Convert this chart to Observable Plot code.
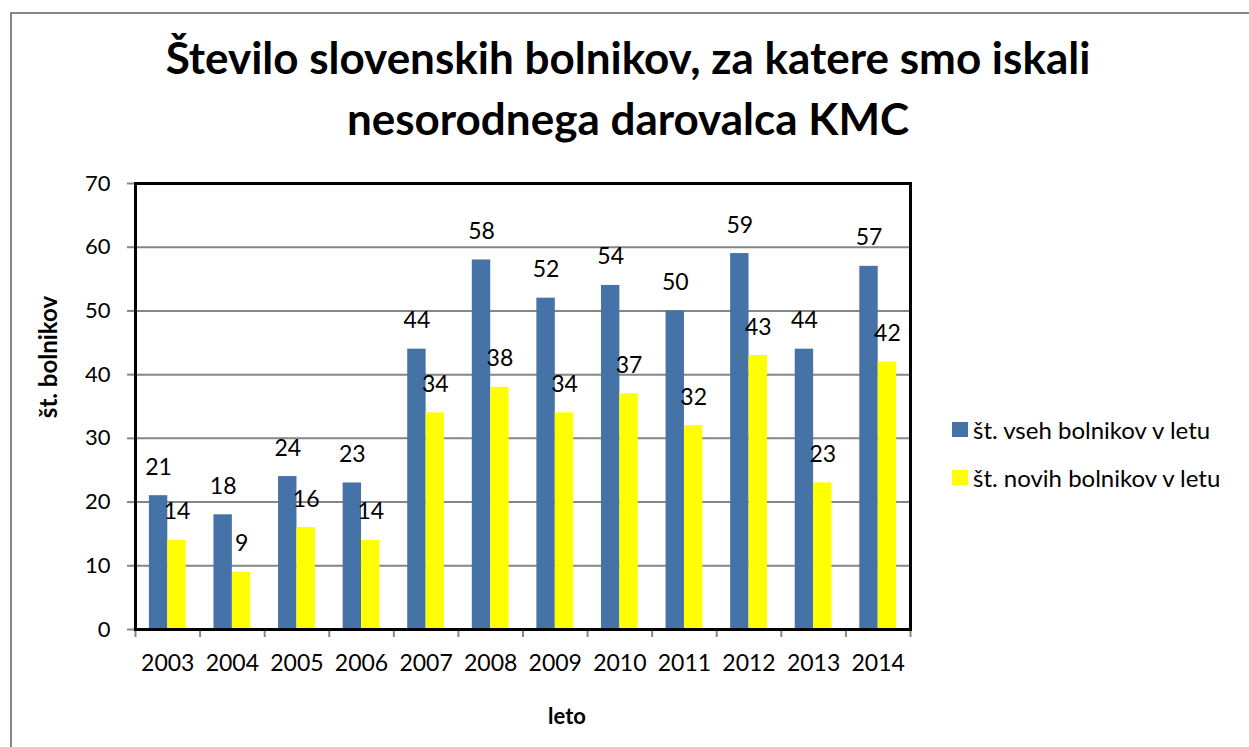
<!DOCTYPE html>
<html>
<head>
<meta charset="utf-8">
<script src="https://cdn.jsdelivr.net/npm/d3@7"></script>
<script src="https://cdn.jsdelivr.net/npm/@observablehq/plot@0.6"></script>
<style>
  html, body { margin: 0; padding: 0; background: #fff; overflow: hidden; }
  body { width: 1249px; height: 747px; position: relative; font-family: Lato, "Open Sans", sans-serif; }
  #frame { position: absolute; left: 10px; top: 12px; width: 1250px; height: 760px; border-left: 2px solid #868686; border-top: 2px solid #868686; box-sizing: border-box; }
  #title { position: absolute; left: 0; top: 27px; width: 1256px; text-align: center; font-weight: bold; font-size: 44px; line-height: 61px; color: #000; }
  #chart { position: absolute; left: 0; top: 0; }
  #legend { position: absolute; left: 952px; top: 416px; font-size: 24px; color: #000; }
  .li { display: flex; align-items: center; height: 26px; margin-bottom: 22px; }
  .sw { width: 16px; height: 15px; margin-right: 5px; }
  #ytitle { position: absolute; left: 47px; top: 357px; transform: translate(-50%, -50%) rotate(-90deg); font-weight: bold; font-size: 24px; white-space: nowrap; }
  #xtitle { position: absolute; left: 567px; top: 715px; transform: translate(-50%, -50%); font-weight: bold; font-size: 22px; white-space: nowrap; }
</style>
</head>
<body>
<div id="frame"></div>
<div id="title">Število slovenskih bolnikov, za katere smo iskali<br>nesorodnega darovalca KMC</div>
<div id="chart"></div>
<div id="legend"></div>
<div id="ytitle">št. bolnikov</div>
<div id="xtitle">leto</div>
<script>
const years = ["2003","2004","2005","2006","2007","2008","2009","2010","2011","2012","2013","2014"];
const allPatients = [21, 18, 24, 23, 44, 58, 52, 54, 50, 59, 44, 57];
const newPatients = [14, 9, 16, 14, 34, 38, 34, 37, 32, 43, 23, 42];
const seriesNames = ["št. vseh bolnikov v letu", "št. novih bolnikov v letu"];
const seriesColors = ["#4572A7", "#FFFF00"];
const yTicks = [0, 10, 20, 30, 40, 50, 60, 70];

const gap = 0.43; // gap fraction of each category
const rows = [];
years.forEach((y, i) => {
  rows.push({i, year: y, s: 0, value: allPatients[i]});
  rows.push({i, year: y, s: 1, value: newPatients[i]});
});
const x1 = d => d.s === 0 ? d.i + gap / 2 : d.i + 0.5;
const x2 = d => d.s === 0 ? d.i + 0.5 : d.i + 1 - gap / 2;
const xc = d => (x1(d) + x2(d)) / 2;

const plot = Plot.plot({
  width: 1249,
  height: 747,
  marginLeft: 135,
  marginRight: 339,
  marginTop: 183,
  marginBottom: 118,
  style: { fontFamily: "Lato, 'Open Sans', sans-serif", fontSize: "22px", color: "#000", background: "transparent" },
  x: { type: "linear", domain: [0, years.length] },
  y: { domain: [0, 70] },
  marks: [
    Plot.ruleY(yTicks.filter(t => t > 0 && t < 70), { stroke: "#868686", strokeWidth: 2 }),
    Plot.rectY(rows, { x1, x2, y: "value", fill: d => seriesColors[d.s] }),
    Plot.text(rows, { x: xc, y: "value", text: d => String(d.value), lineAnchor: "bottom", dy: -21, fontSize: 23, fill: "#000" }),
    Plot.axisY({ ticks: yTicks, tickSize: 8, tickPadding: 17, stroke: "#868686", strokeWidth: 2, fontSize: 22, label: null, tickFormat: d => String(d) }),
    Plot.axisX({ ticks: d3.range(years.length + 1), tickSize: 8, stroke: "#868686", strokeWidth: 2, tickFormat: () => "", label: null }),
    Plot.axisX({ ticks: d3.range(years.length).map(i => i + 0.5), tickSize: 0, tickPadding: 25, fontSize: 23, tickFormat: d => years[Math.round(d - 0.5)], label: null }),
    Plot.frame({ stroke: "#000", strokeWidth: 3 })
  ]
});
document.getElementById("chart").appendChild(plot);

const legend = document.getElementById("legend");
seriesNames.forEach((name, k) => {
  const item = document.createElement("div");
  item.className = "li";
  const sw = document.createElement("div");
  sw.className = "sw";
  sw.style.background = seriesColors[k];
  const label = document.createElement("span");
  label.textContent = name;
  item.appendChild(sw);
  item.appendChild(label);
  legend.appendChild(item);
});
</script>
</body>
</html>
